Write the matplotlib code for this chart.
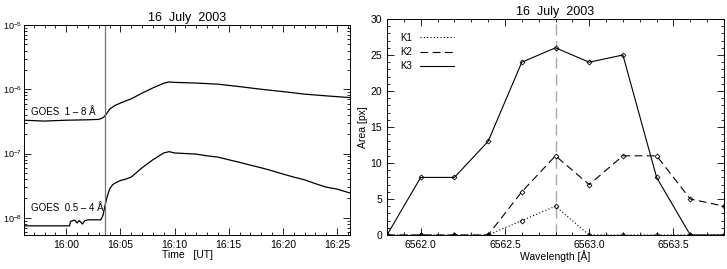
#!/usr/bin/env python3
"""GOES light curves and H-alpha kernel areas, 16 July 2003."""

import matplotlib
matplotlib.use("Agg")
import matplotlib.pyplot as plt
import numpy as np
from matplotlib.lines import Line2D
from matplotlib.ticker import MultipleLocator, LogLocator, NullFormatter, FuncFormatter

plt.rcParams["font.family"] = ["Liberation Sans", "DejaVu Sans"]
plt.rcParams["font.size"] = 7.5

# GOES 1-8 A, time in minutes after 16:00 UT
goes_long_t = [-4.0, -2.0, 0.0, 2.0, 3.0, 3.4, 3.7, 4.0, 4.5, 5.0, 6.0, 7.0, 8.0, 9.0, 9.5,
               10.0, 12.0, 14.0, 16.0, 18.0, 20.0, 22.0, 24.0, 26.3]
goes_long_f = [3.3e-7, 3.2e-7, 3.3e-7, 3.35e-7, 3.4e-7, 3.6e-7, 4.1e-7, 4.9e-7, 5.6e-7, 6.1e-7,
               7.1e-7, 8.7e-7, 1.05e-6, 1.24e-6, 1.3e-6, 1.28e-6, 1.25e-6, 1.2e-6, 1.1e-6,
               1.0e-6, 9.2e-7, 8.4e-7, 7.9e-7, 7.4e-7]

# GOES 0.5-4 A
goes_short_t = [-4.0, -3.0, -1.0, 0.3, 0.4, 0.8, 1.0, 1.2, 1.5, 1.7, 2.0, 2.5, 3.2, 3.4,
                3.6, 3.8, 4.0, 4.3, 4.7, 5.0, 5.5, 6.0, 7.0, 8.0, 9.0, 9.5, 10.0, 11.0,
                12.0, 13.0, 14.0, 15.0, 16.0, 17.0, 18.0, 19.0, 20.0, 21.0, 22.0, 23.0,
                24.0, 25.0, 26.3]
goes_short_f = [7.5e-9, 7.5e-9, 7.5e-9, 7.5e-9, 8.8e-9, 9.2e-9, 8.3e-9, 9.1e-9, 8.0e-9,
                9.0e-9, 9.3e-9, 9.3e-9, 9.3e-9, 1.1e-8, 1.6e-8, 2.2e-8, 2.8e-8, 3.3e-8,
                3.6e-8, 3.8e-8, 4.0e-8, 4.3e-8, 6.0e-8, 8.0e-8, 1.02e-7, 1.07e-7, 1.02e-7,
                1.0e-7, 9.8e-8, 9.2e-8, 8.8e-8, 8.0e-8, 7.3e-8, 6.6e-8, 6.0e-8, 5.4e-8,
                4.8e-8, 4.3e-8, 3.9e-8, 3.4e-8, 3.0e-8, 2.8e-8, 2.4e-8]

flare_mark_t = 3.6

# kernel areas vs wavelength
wavelength = [6561.8, 6562.0, 6562.2, 6562.4, 6562.6, 6562.8, 6563.0, 6563.2, 6563.4, 6563.6, 6563.8]
k1_area = [0, 0, 0, 0, 2, 4, 0, 0, 0, 0, 0]
k2_area = [0, 0, 0, 0, 6, 11, 7, 11, 11, 5, 4]
k3_area = [0, 8, 8, 13, 24, 26, 24, 25, 8, 0, 0]
line_center = 6562.8

K1_LS = (0, (1, 2))
K2_LS = (0, (7, 4))


def idl_ticks(ax):
    ax.tick_params(which="both", direction="in", top=True, right=True, width=0.6)
    ax.tick_params(which="major", length=5)
    ax.tick_params(which="minor", length=2.5)
    for s in ax.spines.values():
        s.set_linewidth(0.7)


fig = plt.figure(figsize=(7.27, 2.69), dpi=100)

# left panel: GOES
ax1 = fig.add_axes([24 / 727, 1 - 235 / 269, 326 / 727, 210 / 269])
ax1.plot(goes_long_t, goes_long_f, color="black", lw=0.9)
ax1.plot(goes_short_t, goes_short_f, color="black", lw=0.9)
ax1.axvline(flare_mark_t, color="#777777", lw=0.9)
ax1.set_yscale("log")
ax1.set_ylim(5.4e-9, 1e-5)
ax1.set_xlim(-3.9, 26.2)
ax1.xaxis.set_major_locator(MultipleLocator(5))
ax1.xaxis.set_minor_locator(MultipleLocator(1))
ax1.xaxis.set_major_formatter(FuncFormatter(lambda v, p: f"{16 + int(v // 60)}:{int(v % 60):02d}"))
ax1.yaxis.set_major_locator(LogLocator(base=10, numticks=10))
ax1.yaxis.set_minor_locator(LogLocator(base=10, subs=np.arange(2, 10), numticks=10))
ax1.yaxis.set_minor_formatter(NullFormatter())
idl_ticks(ax1)
ax1.tick_params(axis="y", which="major", labelsize=6.5, pad=1.5)
ax1.set_title("16  July  2003", fontsize=9, pad=3)
ax1.set_xlabel("Time   [UT]", labelpad=0)
ax1.text(0.02, 0.57, "GOES  1 \u2013 8 \u00c5", transform=ax1.transAxes, fontsize=7)
ax1.text(0.02, 0.115, "GOES  0.5 \u2013 4 \u00c5", transform=ax1.transAxes, fontsize=7)

# right panel: kernel areas
ax2 = fig.add_axes([387 / 727, 1 - 235 / 269, 337 / 727, 216 / 269])
mk = dict(marker="D", markersize=2.5, markerfacecolor="none", markeredgewidth=0.6)
ax2.plot(wavelength, k1_area, color="black", lw=0.8, ls=K1_LS, **mk)
ax2.plot(wavelength, k2_area, color="black", lw=0.8, ls=K2_LS, **mk)
ax2.plot(wavelength, k3_area, color="black", lw=0.8, ls="-", **mk)
ax2.axvline(line_center, color="#aaaaaa", lw=1.0, ls=(0, (8, 4)), zorder=0)
ax2.set_xlim(6561.8, 6563.8)
ax2.set_ylim(0, 30)
ax2.xaxis.set_major_locator(MultipleLocator(0.5))
ax2.xaxis.set_minor_locator(MultipleLocator(0.1))
ax2.yaxis.set_major_locator(MultipleLocator(5))
ax2.yaxis.set_minor_locator(MultipleLocator(1))
ax2.xaxis.set_major_formatter(FuncFormatter(lambda v, p: f"{v:.1f}"))
idl_ticks(ax2)
ax2.set_title("16  July  2003", fontsize=9, pad=3)
ax2.set_xlabel("Wavelength [\u00c5]", labelpad=0)
ax2.set_ylabel("Area [px]", labelpad=2)
handles = [Line2D([], [], color="black", lw=0.8, ls=K1_LS),
           Line2D([], [], color="black", lw=0.8, ls=K2_LS),
           Line2D([], [], color="black", lw=0.8, ls="-")]
ax2.legend(handles, ["K1", "K2", "K3"], loc="upper left", frameon=False, fontsize=7,
           handlelength=3.5, handletextpad=0.8, borderaxespad=1.0, labelspacing=0.45,
           markerfirst=False)

fig.savefig("out.png", dpi=100)
